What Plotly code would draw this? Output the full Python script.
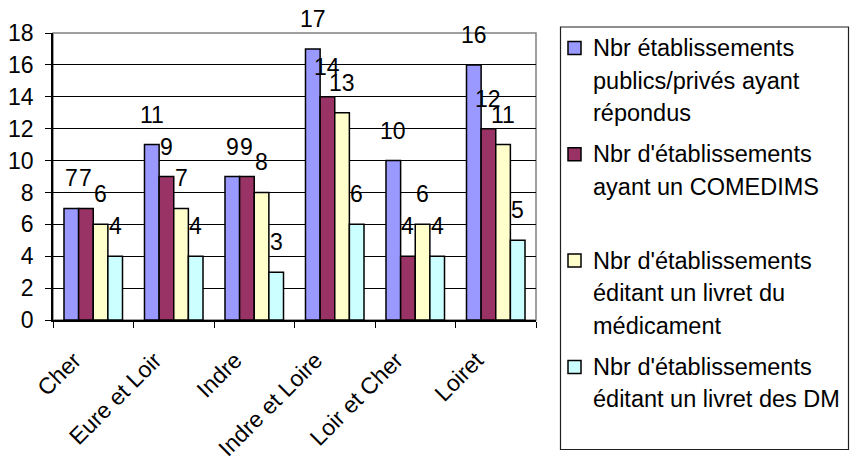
import plotly.graph_objects as go

# ── Data ─────────────────────────────────────────────────────────────
departements = ["Cher", "Eure et Loir", "Indre", "Indre et Loire", "Loir et Cher", "Loiret"]

repondus   = [7, 11, 9, 17, 10, 16]
comedims   = [7, 9, 9, 14, 4, 12]
livret_med = [6, 7, 8, 13, 6, 11]
livret_dm  = [4, 4, 3, 6, 4, 5]

series_names = [
    "Nbr établissements<br>publics/privés ayant<br>répondus",
    "Nbr d'établissements<br>ayant un COMEDIMS",
    "Nbr d'établissements<br>éditant un livret du<br>médicament",
    "Nbr d'établissements<br>éditant un livret des DM",
]
series_values = [repondus, comedims, livret_med, livret_dm]
y_ticks = [0, 2, 4, 6, 8, 10, 12, 14, 16, 18]

# ── Style ────────────────────────────────────────────────────────────
COLORS = ["#9999FF", "#993366", "#FFFFCC", "#CCFFFF"]
FONT = "Arial, Liberation Sans, sans-serif"
FS = 23
BARGAP = 0.273

W, H = 850, 459
ML, MR, MT, MB = 53, 314, 33, 139
PW, PH = W - ML - MR, H - MT - MB


def px(x):   # figure pixel -> paper x
    return (x - ML) / PW


def py(y):   # figure pixel (from top) -> paper y
    return (H - MB - y) / PH


fig = go.Figure()

for name, vals, col in zip(series_names, series_values, COLORS):
    fig.add_trace(go.Bar(
        x=departements,
        y=vals,
        name=name.replace("<br>", " "),
        marker=dict(color=col, line=dict(color="#000000", width=1.5)),
        showlegend=False,
    ))

# data labels centred above each bar (Excel style)
n = len(series_values)
bw = (1 - BARGAP) / n
for i, vals in enumerate(series_values):
    off = -(1 - BARGAP) / 2 + bw * (i + 0.5)
    for j, v in enumerate(vals):
        fig.add_annotation(
            x=j + off, y=v, xref="x", yref="y",
            text=str(v), showarrow=False,
            xanchor="center", yanchor="bottom", yshift=15,
            font=dict(size=FS, color="#000000", family=FONT),
        )

# grey frame on top/right of plot area
fig.add_shape(type="rect", xref="paper", yref="paper", x0=0, x1=1, y0=0, y1=1,
              line=dict(color="#808080", width=1.5), layer="below")

# ── Legend box (Excel style) ─────────────────────────────────────────
fig.add_shape(type="rect", xref="paper", yref="paper",
              x0=px(560.5), x1=px(848.5), y0=py(449.5), y1=py(27),
              line=dict(color="#202020", width=1.2), fillcolor="#FFFFFF")
for k, (name, col) in enumerate(zip(series_names, COLORS)):
    y0 = 48 + 106.3 * k
    fig.add_shape(type="rect", xref="paper", yref="paper",
                  x0=px(568), x1=px(581), y0=py(y0 + 6.5), y1=py(y0 - 6.5),
                  line=dict(color="#000000", width=1.5), fillcolor=col)
    for m, line in enumerate(name.split("<br>")):
        fig.add_annotation(
            x=px(591), y=py(y0 + 32.5 * m), xref="paper", yref="paper",
            text=line, showarrow=False, xanchor="left", yanchor="middle",
            font=dict(size=23.5, color="#000000", family=FONT),
        )

fig.update_layout(
    width=W, height=H,
    plot_bgcolor="#FFFFFF", paper_bgcolor="#FFFFFF",
    font=dict(family=FONT, size=FS, color="#000000"),
    barmode="group", bargap=BARGAP, bargroupgap=0,
    margin=dict(l=ML, r=MR, t=MT, b=MB, autoexpand=False),
    showlegend=False,
    xaxis=dict(
        tickangle=-45, tickson="boundaries", ticks="outside", ticklen=6,
        tickcolor="#000000", showline=True, linecolor="#000000", linewidth=1.5,
        showgrid=False, tickfont=dict(size=FS), automargin=False,
        ticklabelstandoff=16, ticklabelshift=-19,
    ),
    yaxis=dict(
        range=[0, 18], tickvals=y_ticks, ticks="outside", ticklen=6,
        tickcolor="#000000", showline=True, linecolor="#000000", linewidth=1.5,
        showgrid=True, gridcolor="#000000", gridwidth=1, zeroline=False,
        tickfont=dict(size=FS), ticklabelstandoff=7, automargin=False,
    ),
)

# page body has a default 8px margin; drop it so the figure fills the window
fig.write_html(
    "out.html",
    config={"displayModeBar": False},
    post_script="document.body.style.margin='0';document.body.style.overflow='hidden';",
)
